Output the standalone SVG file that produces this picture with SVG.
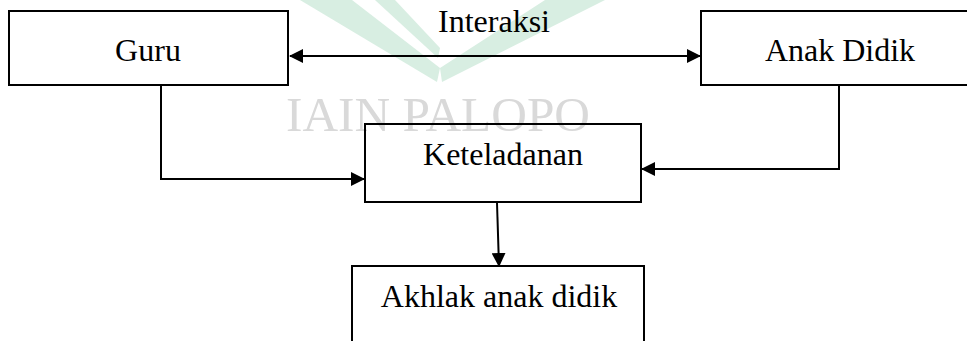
<svg xmlns="http://www.w3.org/2000/svg" width="967" height="341" viewBox="0 0 967 341">
  <style>
    .box { fill: none; stroke: #000; stroke-width: 2; }
    .lbl { font-family: "Liberation Serif", "Times New Roman", serif; font-size: 32px; fill: #000; text-anchor: middle; }
    .conn { fill: none; stroke: #000; stroke-width: 2; }
    .wm { font-family: "Liberation Serif", "Times New Roman", serif; font-size: 48px; fill: #d9d9d9; }
    .logo { fill: #d8eee2; }
  </style>
  <defs>
    <marker id="arr" viewBox="0 0 14 14" refX="13" refY="7" markerWidth="14" markerHeight="14" markerUnits="userSpaceOnUse" orient="auto-start-reverse">
      <path d="M0,0 L14,7 L0,14 z" fill="#000"/>
    </marker>
  </defs>

  <g id="watermark">
    <polygon class="logo" points="300,0 352,0 440,68 437,82"/>
    <polygon class="logo" points="375,0 395,0 440,48 438,58"/>
    <polygon class="logo" points="545,0 605,0 442,82 440,68"/>
    <text class="wm" x="286" y="131" textLength="304" lengthAdjust="spacingAndGlyphs">IAIN PALOPO</text>
  </g>

  <g id="connectors">
    <line class="conn" x1="290" y1="56" x2="700" y2="56" marker-start="url(#arr)" marker-end="url(#arr)"/>
    <text class="lbl" x="494" y="32">Interaksi</text>
    <polyline class="conn" points="161,86 161,179 364,179" marker-end="url(#arr)"/>
    <polyline class="conn" points="839,86 839,169 642,169" marker-end="url(#arr)"/>
    <line class="conn" x1="497" y1="203" x2="499" y2="266" marker-end="url(#arr)"/>
  </g>

  <g id="guru">
    <rect class="box" x="9" y="11" width="279" height="74"/>
    <text class="lbl" x="148" y="61">Guru</text>
  </g>

  <g id="anak-didik">
    <rect class="box" x="701" y="11" width="280" height="74"/>
    <text class="lbl" x="840" y="61">Anak Didik</text>
  </g>

  <g id="keteladanan">
    <rect class="box" x="365" y="124" width="276" height="78"/>
    <text class="lbl" x="503" y="165">Keteladanan</text>
  </g>

  <g id="akhlak">
    <rect class="box" x="352" y="266" width="292" height="90"/>
    <text class="lbl" x="499" y="307">Akhlak anak didik</text>
  </g>
</svg>
